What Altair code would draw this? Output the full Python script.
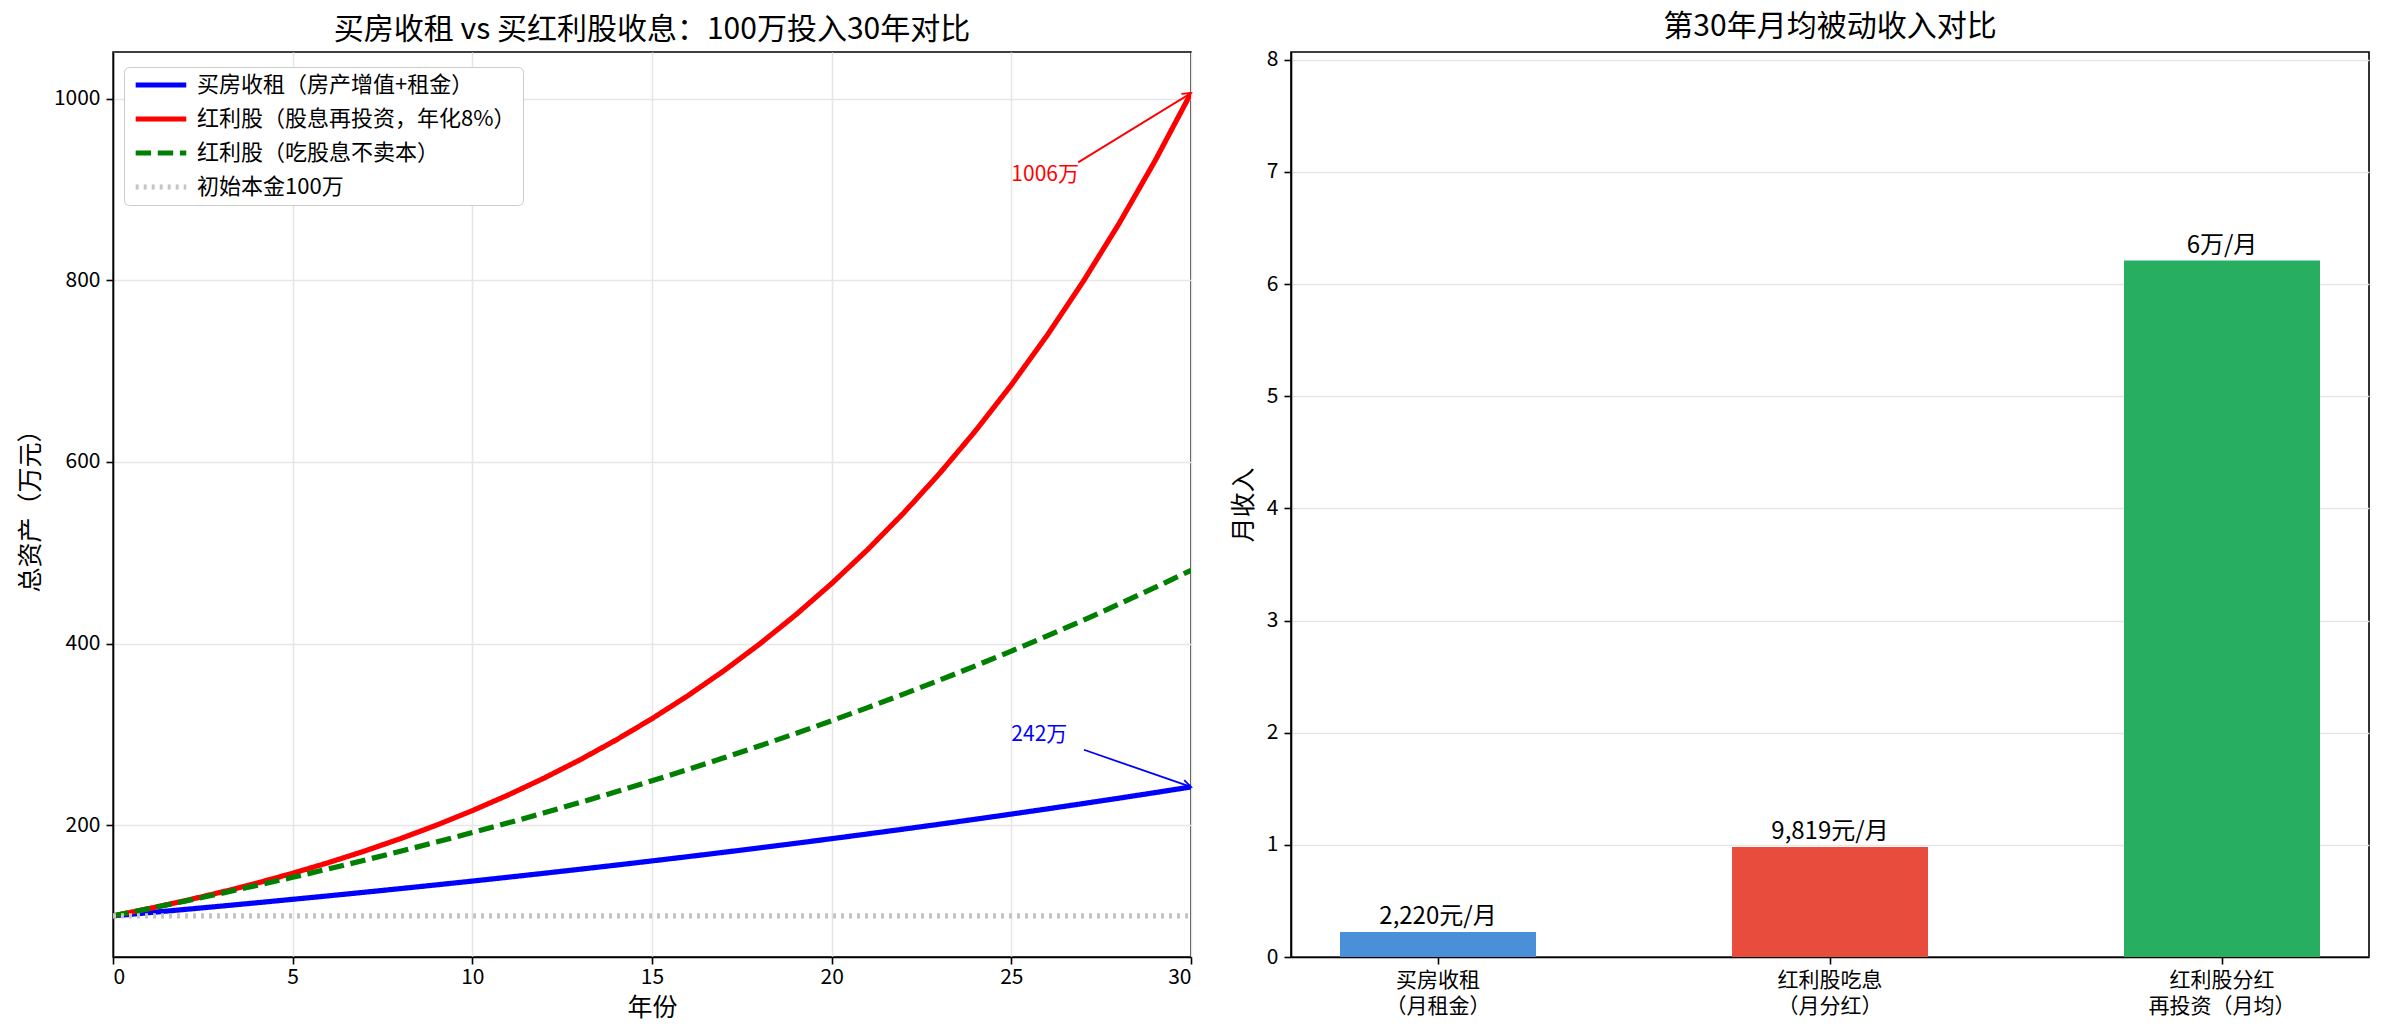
import math
import altair as alt
import pandas as pd

FONT = "Noto Sans CJK SC"

# ---------------- data ----------------
years = list(range(31))
house_rent = [100.0, 103.5, 107.07, 110.71, 114.42, 118.22, 122.08, 126.02, 130.04, 134.14,
              138.32, 142.59, 146.94, 151.38, 155.91, 160.53, 165.24, 170.04, 174.94, 179.94,
              185.04, 190.24, 195.55, 200.96, 206.47, 212.11, 217.85, 223.71, 229.68, 235.77, 241.99]
div_reinvest = [100.0, 108.0, 116.64, 125.97, 136.05, 146.93, 158.69, 171.38, 185.09, 199.90,
                215.89, 233.16, 251.82, 271.96, 293.72, 317.22, 342.59, 370.00, 399.60, 431.57,
                466.10, 503.38, 543.65, 587.15, 634.12, 684.85, 739.63, 798.80, 862.71, 931.73, 1006.27]
div_spend = [100.0, 108.0, 116.24, 124.72, 133.47, 142.48, 151.75, 161.30, 171.14, 181.28,
             191.71, 202.46, 213.54, 224.94, 236.69, 248.79, 261.25, 274.09, 287.31, 300.93,
             314.96, 329.41, 344.29, 359.62, 375.41, 391.68, 408.43, 425.68, 443.44, 461.75, 480.61]
principal_years = [0, 30]
principal_values = [100, 100]

series_names = ["买房收租（房产增值+租金）", "红利股（股息再投资，年化8%）",
                "红利股（吃股息不卖本）", "初始本金100万"]
series_colors = ["#0000ff", "#ff0000", "#008000", "#c4c4c4"]
series_dash = [[1, 0], [1, 0], [15.4, 6.7], [3.0, 5.0]]
series_width = [5.2, 5.2, 4.2, 3.0]

ann_text = ["1006万", "242万"]
ann_text_x = [25, 25]
ann_text_y = [910, 293]
ann_start_x = [26.86, 27.02]
ann_start_y = [930, 283]
ann_end_x = [30, 30]
ann_end_y = [1006.27, 241.99]
ann_colors = ["#ff0000", "#0000ff"]

bar_cats = ["买房收租\n（月租金）", "红利股吃息\n（月分红）", "红利股分红\n再投资（月均）"]
bar_values = [0.222, 0.9819, 6.21]
bar_labels = ["2,220元/月", "9,819元/月", "6万/月"]
bar_colors = ["#4a90d9", "#e74c3c", "#27ae60"]

# ---------------- layout constants ----------------
LW, LH = 1078, 905
RW, RH = 1078, 905
X_DOM = [0, 30]
Y_DOM = [54.69, 1051.58]

# ---------------- left panel ----------------
rows = []
for name, vals in zip(series_names[:3], [house_rent, div_reinvest, div_spend]):
    for yr, v in zip(years, vals):
        rows.append({"year": yr, "value": v, "series": name})
for yr, v in zip(principal_years, principal_values):
    rows.append({"year": yr, "value": v, "series": series_names[3]})
df_lines = pd.DataFrame(rows)

# legend line symbol: drawn from the entry's left edge, ~52 px long
leg = alt.Legend(title=None, orient="none", legendX=11, legendY=15,
                 symbolType="M-1,0L7,0", symbolSize=160,
                 labelFontSize=22, labelFont=FONT, labelColor="#000",
                 fillColor="white", strokeColor="#cccccc", cornerRadius=5, padding=7,
                 rowPadding=12, labelOffset=44, labelLimit=800)

xs = alt.Scale(domain=X_DOM, nice=False)
ys = alt.Scale(domain=Y_DOM, nice=False, zero=False)

lines = alt.Chart(df_lines).mark_line(clip=True).encode(
    x=alt.X("year:Q", scale=xs,
            axis=alt.Axis(values=[0, 5, 10, 15, 20, 25, 30], title="年份", titlePadding=8,
                          format="d", labelPadding=2)),
    y=alt.Y("value:Q", scale=ys,
            axis=alt.Axis(values=[200, 400, 600, 800, 1000], title="总资产（万元）",
                          titlePadding=10, format="d")),
    color=alt.Color("series:N", scale=alt.Scale(domain=series_names, range=series_colors), legend=leg),
    strokeDash=alt.StrokeDash("series:N", scale=alt.Scale(domain=series_names, range=series_dash), legend=leg),
    strokeWidth=alt.StrokeWidth("series:N", scale=alt.Scale(domain=series_names, range=series_width), legend=leg),
)

def to_px(x, y):
    px = (x - X_DOM[0]) / (X_DOM[1] - X_DOM[0]) * LW
    py = (Y_DOM[1] - y) / (Y_DOM[1] - Y_DOM[0]) * LH
    return px, py

layers = [lines]
for i in range(len(ann_text)):
    p0 = to_px(ann_start_x[i], ann_start_y[i])
    p1 = to_px(ann_end_x[i], ann_end_y[i])
    ang = math.degrees(math.atan2(p1[1] - p0[1], p1[0] - p0[0])) % 360
    d = pd.DataFrame({"text": [ann_text[i]], "tx": [ann_text_x[i]], "ty": [ann_text_y[i]],
                      "sx": [ann_start_x[i]], "sy": [ann_start_y[i]],
                      "ex": [ann_end_x[i]], "ey": [ann_end_y[i]]})
    col = ann_colors[i]
    layers.append(alt.Chart(d).mark_rule(strokeWidth=1.8, color=col).encode(
        x=alt.X("sx:Q", scale=xs), y=alt.Y("sy:Q", scale=ys), x2="ex:Q", y2="ey:Q"))
    layers.append(alt.Chart(d).mark_point(shape="M-1,-0.5L0,0L-1,0.5", size=300, filled=False,
                                          strokeWidth=1.8, opacity=1, color=col, angle=ang).encode(
        x=alt.X("ex:Q", scale=xs), y=alt.Y("ey:Q", scale=ys)))
    layers.append(alt.Chart(d).mark_text(align="left", baseline="alphabetic", fontSize=21,
                                         color=col).encode(
        x=alt.X("tx:Q", scale=xs), y=alt.Y("ty:Q", scale=ys), text="text:N"))

left = alt.layer(*layers).properties(
    width=LW, height=LH,
    title=alt.Title("买房收租 vs 买红利股收息：100万投入30年对比", fontSize=30, fontWeight="normal",
                    font=FONT, color="#000", offset=7),
)

# ---------------- right panel ----------------
df_bars = pd.DataFrame({"cat": bar_cats, "val": bar_values, "lab": bar_labels})
bx = alt.X("cat:N", sort=bar_cats,
           scale=alt.Scale(paddingInner=0.5, paddingOuter=0.125),
           axis=alt.Axis(labelExpr="split(datum.label, '\\n')", labelAngle=0, title=None,
                         grid=False, labelLineHeight=26, labelPadding=5))
by = alt.Y("val:Q", scale=alt.Scale(domain=[0, 8.07], nice=False),
           axis=alt.Axis(values=[0, 1, 2, 3, 4, 5, 6, 7, 8], title="月收入", titlePadding=10,
                         format="d"))

bars = alt.Chart(df_bars).mark_bar().encode(
    x=bx, y=by,
    fill=alt.Fill("cat:N", scale=alt.Scale(domain=bar_cats, range=bar_colors), legend=None))
bar_txt = alt.Chart(df_bars).mark_text(baseline="bottom", dy=-3, fontSize=24, color="#000").encode(
    x=alt.X("cat:N", sort=bar_cats), y="val:Q", text="lab:N")

right = alt.layer(bars, bar_txt).properties(
    width=RW, height=RH,
    title=alt.Title("第30年月均被动收入对比", fontSize=30, fontWeight="normal",
                    font=FONT, color="#000", offset=7),
)

chart = alt.hconcat(left, right, spacing=100, bounds="flush").properties(
    padding={"left": 17, "top": 11, "right": 5, "bottom": 5}
).configure(font=FONT).configure_view(
    stroke="black", strokeWidth=1.6
).configure_axis(
    domainColor="black", domainWidth=1.6, tickColor="black", tickWidth=1.6, tickSize=7,
    labelFontSize=21, labelColor="#000", labelPadding=6, labelFont=FONT,
    titleFontSize=25, titleFontWeight="normal", titleColor="#000", titleFont=FONT,
    gridColor="#e6e6e6", gridWidth=1.6,
)

chart.save("out.html", embed_options={"renderer": "svg", "actions": False})
